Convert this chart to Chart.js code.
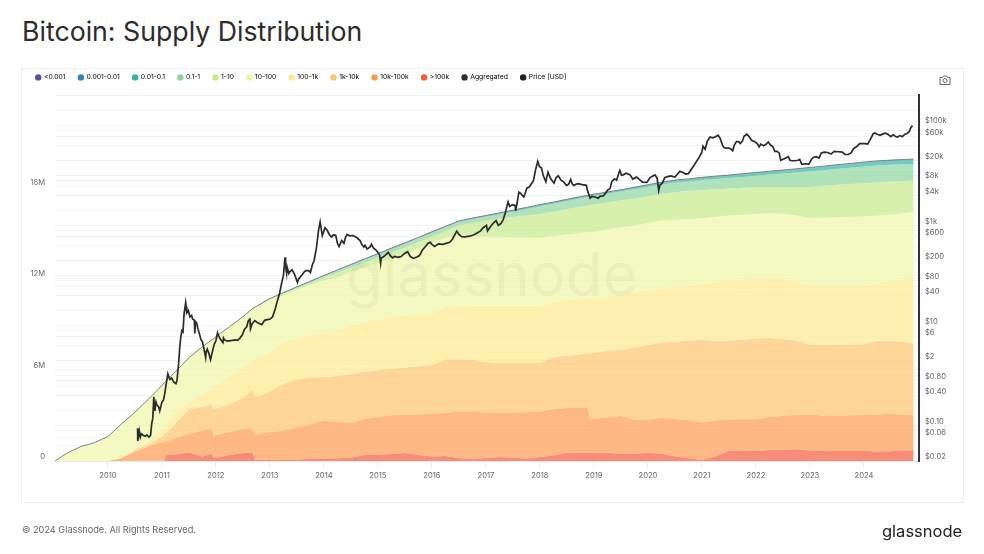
<!DOCTYPE html>
<html>
<head>
<meta charset="utf-8">
<title>Bitcoin: Supply Distribution</title>
<script src="https://cdn.jsdelivr.net/npm/chart.js@4"></script>
<style>
  html, body { margin: 0; padding: 0; background: #fff; font-family: Inter, sans-serif; }
  #page { position: relative; width: 984px; height: 554px; overflow: hidden; }
  #title { position: absolute; left: 22px; top: 14px; font-size: 26.7px; line-height: 34px; color: #2c2c2c; }
  #card { position: absolute; left: 21px; top: 68px; width: 941px; height: 433px; border: 1px solid #eeeeee; }
  #chart-wrap { position: absolute; left: 0; top: 0; width: 984px; height: 554px; }
  #mark { position: absolute; left: 346px; top: 238px; font-size: 60px; line-height: 72px; color: rgba(70, 70, 70, 0.05); }
  #camera { position: absolute; left: 939px; top: 75px; }
  #foot { position: absolute; left: 22px; top: 523px; font-size: 9.2px; line-height: 14px; color: #666; }
  #logo { position: absolute; left: 882px; top: 520px; font-size: 16.5px; line-height: 22px; font-weight: 400; color: #222; }
</style>
</head>
<body>
<div id="page">
  <div id="title">Bitcoin: Supply Distribution</div>
  <div id="card"></div>
  <div id="chart-wrap"><canvas id="chart" width="984" height="554"></canvas></div>
  <div id="mark">glassnode</div>
  <svg id="camera" width="12" height="10" viewBox="0 0 12 10" fill="none" stroke="#666" stroke-width="1">
    <path d="M1 2.5h2.5l1-1.5h3l1 1.5H11v7H1z"/><circle cx="6" cy="5.5" r="2"/>
  </svg>
  <div id="foot">© 2024 Glassnode. All Rights Reserved.</div>
  <div id="logo">glassnode</div>
</div>
<script>
// x ticks and y ticks
var yearTicks = [2010,2011,2012,2013,2014,2015,2016,2017,2018,2019,2020,2021,2022,2023,2024];
var supplyTicks = [0,6,12,18,24];
var priceTicks = [0.02,0.04,0.06,0.08,0.1,0.2,0.4,0.6,0.8,1,2,4,6,8,10,20,40,60,80,100,200,400,600,800,1000,2000,4000,6000,8000,10000,20000,40000,60000,80000,100000,200000,400000];
var priceTickLabels = {0.02:"$0.02",0.06:"$0.06",0.1:"$0.10",0.4:"$0.40",0.8:"$0.80",2:"$2",6:"$6",10:"$10",40:"$40",80:"$80",200:"$200",600:"$600",1000:"$1k",4000:"$4k",8000:"$8k",20000:"$20k",60000:"$60k",100000:"$100k"};

// dates shared by the supply bands
var bandYears = [
  2009.02,2009.25,2009.5,2009.75,2010,2010.25,2010.5,2010.75,2011,2011.05,
  2011.07,2011.25,2011.5,2011.75,2011.93,2011.95,2012,2012.25,2012.5,2012.68,
  2012.72,2012.75,2013,2013.25,2013.5,2013.75,2014,2014.25,2014.5,2014.75,
  2015,2015.25,2015.5,2015.75,2016,2016.25,2016.5,2016.75,2017,2017.25,
  2017.5,2017.75,2018,2018.25,2018.5,2018.75,2018.89,2018.93,2019,2019.25,
  2019.5,2019.75,2020,2020.25,2020.5,2020.75,2021,2021.25,2021.5,2021.75,
  2022,2022.25,2022.5,2022.75,2023,2023.25,2023.5,2023.75,2024,2024.25,
  2024.5,2024.75,2024.92
];

// supply in millions BTC, each one is the running total up to the top of that cohort
var upToOver100k = [
  0,0,0,0,0,0,.01,.01,.02,.02,
  .38,.42,.55,.3,.5,.22,.22,.39,.53,.58,
  .11,.08,.07,.1,.1,.13,.16,.18,.22,.39,
  .42,.46,.53,.39,.3,.33,.2,.11,.2,.26,
  .23,.16,.26,.36,.55,.52,.55,.55,.53,.55,
  .46,.5,.52,.5,.3,.2,.07,.3,.68,.66,
  .66,.72,.76,.77,.69,.66,.66,.66,.66,.62,
  .64,.7,.7
];
var upTo10k100k = [
  0,0,0,0,0,.2,.6,.95,1.25,1.28,
  1.3,1.5,1.78,2,2.1,1.6,1.7,1.9,2.1,2.1,
  1.75,1.75,1.9,2,2.2,2.4,2.65,2.55,2.5,2.75,
  2.9,3,3.05,3.05,3.1,3.15,3.24,3.22,3.2,3.18,
  3.18,3.2,3.24,3.4,3.48,3.5,3.5,2.74,2.78,2.85,
  2.95,2.7,2.72,2.84,2.76,2.68,2.52,2.66,2.74,2.74,
  2.74,2.88,2.96,3.05,3.05,2.98,2.98,3,3.02,3.05,
  3.1,3.03,3
];
var upTo1k10k = [
  0,0,0,0,0,.22,.72,1.05,1.6,1.75,
  1.8,2.45,3.4,3.55,3.74,3.42,3.45,3.7,4.15,4.65,
  4.25,4.2,4.55,5.05,5.35,5.5,5.5,5.58,5.7,5.85,
  5.95,6.05,6.13,6.22,6.3,6.65,6.68,6.62,6.5,6.42,
  6.42,6.42,6.42,6.8,6.9,7,7.05,7.05,7.1,7.22,
  7.3,7.45,7.6,7.77,7.82,7.88,7.95,7.85,7.9,7.95,
  8.03,8.06,8,7.88,7.6,7.6,7.6,7.6,7.65,7.88,
  7.88,7.8,7.71
];
var upTo100_1k = [
  0,0,0,0,0,.24,.8,1.3,2.05,2.2,
  2.3,3.2,3.9,4.3,4.75,4.8,4.95,5.5,6.1,6.6,
  6.75,6.75,7.1,7.75,8.05,8.25,8.4,8.55,8.85,9.1,
  9.3,9.45,9.53,9.6,9.64,10.12,10.15,10.18,10.18,10.18,
  10.18,10.18,10.18,10.4,10.55,10.6,10.65,10.65,10.68,10.75,
  10.9,11.06,11.2,11.32,11.4,11.5,11.6,11.8,11.85,11.9,
  11.95,11.98,11.92,11.8,11.5,11.5,11.5,11.5,11.5,11.65,
  11.83,11.9,11.98
];
var upTo10_100 = [
  0,.52,.94,1.19,1.59,2.42,3.19,4.04,4.94,5.14,
  5.21,5.84,6.77,7.48,7.96,7.99,8.14,8.78,9.43,9.95,
  10.04,10.08,10.55,10.85,11.22,11.55,11.85,12,12.4,12.7,
  13,13.3,13.55,13.95,14.3,14.62,14.78,14.75,14.72,14.7,
  14.68,14.65,14.63,14.75,14.85,14.95,15,15.02,15.05,15.18,
  15.32,15.45,15.6,15.77,15.82,15.85,15.92,16,16.1,16.15,
  16.2,16.25,16.22,16.1,15.94,15.95,15.98,16,16.03,16.08,
  16.16,16.25,16.31
];
var upTo1_10 = [
  0,.525,.945,1.195,1.595,2.425,3.195,4.045,4.945,5.145,
  5.215,5.845,6.775,7.485,7.965,7.995,8.145,8.79,9.45,9.98,
  10.07,10.11,10.61,10.97,11.33,11.68,12.03,12.35,12.68,13,
  13.35,13.68,14,14.35,14.72,15.08,15.44,15.6,15.75,15.88,
  16,16.1,16.2,16.35,16.52,16.68,16.75,16.78,16.83,16.95,
  17.1,17.2,17.38,17.52,17.62,17.72,17.76,17.82,17.87,17.92,
  17.96,17.96,17.96,17.96,17.96,18.05,18.12,18.17,18.22,18.26,
  18.32,18.36,18.4
];
var upTo01_1 = [
  0,.529,.949,1.199,1.599,2.429,3.199,4.049,4.949,5.149,
  5.219,5.849,6.779,7.489,7.969,7.999,8.149,8.799,9.459,9.995,
  10.095,10.135,10.65,11.02,11.39,11.76,12.13,12.49,12.84,13.2,
  13.54,13.9,14.25,14.6,14.97,15.33,15.68,15.86,16.02,16.18,
  16.35,16.53,16.7,16.87,17.05,17.23,17.31,17.34,17.39,17.53,
  17.67,17.82,17.98,18.13,18.26,18.33,18.42,18.49,18.55,18.63,
  18.71,18.78,18.85,18.92,19,19.07,19.16,19.23,19.31,19.38,
  19.42,19.46,19.48
];
var upTo001_01 = [
  0,.53,.95,1.2,1.6,2.43,3.2,4.05,4.95,5.15,
  5.22,5.85,6.78,7.49,7.97,8,8.15,8.8,9.46,10,
  10.1,10.14,10.66,11.03,11.41,11.78,12.15,12.51,12.87,13.22,
  13.57,13.93,14.28,14.63,15,15.36,15.71,15.9,16.07,16.24,
  16.42,16.6,16.78,16.95,17.13,17.31,17.39,17.42,17.47,17.61,
  17.76,17.92,18.09,18.25,18.39,18.47,18.57,18.65,18.72,18.81,
  18.89,18.97,19.05,19.13,19.22,19.3,19.4,19.48,19.57,19.65,
  19.7,19.74,19.77
];
var upTo0001_001 = [
  0,.53,.95,1.2,1.6,2.43,3.2,4.05,4.95,5.15,
  5.22,5.85,6.78,7.49,7.97,8,8.15,8.8,9.46,10,
  10.1,10.14,10.66,11.04,11.42,11.79,12.16,12.52,12.88,13.24,
  13.59,13.95,14.3,14.65,15.02,15.38,15.73,15.92,16.09,16.26,
  16.44,16.62,16.8,16.97,17.15,17.33,17.41,17.44,17.49,17.63,
  17.78,17.94,18.11,18.27,18.41,18.49,18.59,18.67,18.74,18.83,
  18.91,18.99,19.07,19.15,19.24,19.32,19.42,19.5,19.59,19.67,
  19.72,19.76,19.79
];
var aggregated = [
  0,.53,.95,1.2,1.6,2.43,3.2,4.05,4.95,5.15,
  5.22,5.85,6.78,7.49,7.97,8,8.15,8.8,9.46,10,
  10.1,10.14,10.66,11.04,11.42,11.79,12.17,12.53,12.89,13.25,
  13.6,13.96,14.31,14.66,15.03,15.39,15.74,15.93,16.1,16.27,
  16.45,16.63,16.81,16.98,17.16,17.34,17.42,17.45,17.5,17.64,
  17.79,17.95,18.12,18.28,18.42,18.5,18.6,18.68,18.75,18.84,
  18.92,19,19.08,19.16,19.25,19.33,19.43,19.51,19.6,19.68,
  19.73,19.77,19.8
];

// price in USD
var priceYears = [
  2010.55,2010.552,2010.58,2010.6,2010.62,2010.65,2010.69,2010.72,2010.76,2010.79,
  2010.81,2010.83,2010.85,2010.86,2010.87,2010.89,2010.91,2010.94,2010.96,2011,
  2011.03,2011.05,2011.08,2011.11,2011.13,2011.15,2011.18,2011.22,2011.26,2011.28,
  2011.31,2011.33,2011.35,2011.37,2011.39,2011.41,2011.44,2011.45,2011.46,2011.49,
  2011.52,2011.55,2011.57,2011.6,2011.61,2011.62,2011.64,2011.67,2011.7,2011.72,
  2011.75,2011.78,2011.81,2011.82,2011.84,2011.87,2011.9,2011.93,2011.97,2012,
  2012.03,2012.05,2012.08,2012.13,2012.14,2012.16,2012.2,2012.25,2012.3,2012.36,
  2012.4,2012.44,2012.49,2012.53,2012.57,2012.6,2012.63,2012.64,2012.67,2012.72,
  2012.77,2012.85,2012.9,2012.95,2013,2013.05,2013.1,2013.13,2013.18,2013.22,
  2013.25,2013.28,2013.29,2013.31,2013.32,2013.35,2013.37,2013.41,2013.45,2013.48,
  2013.51,2013.53,2013.56,2013.6,2013.64,2013.67,2013.72,2013.75,2013.79,2013.82,
  2013.84,2013.86,2013.9,2013.93,2013.95,2013.97,2014,2014.02,2014.06,2014.1,
  2014.14,2014.18,2014.22,2014.25,2014.28,2014.31,2014.33,2014.37,2014.4,2014.43,
  2014.48,2014.54,2014.6,2014.67,2014.7,2014.74,2014.76,2014.8,2014.85,2014.88,
  2014.92,2014.97,2015,2015.03,2015.05,2015.06,2015.08,2015.13,2015.19,2015.23,
  2015.27,2015.31,2015.37,2015.43,2015.5,2015.55,2015.6,2015.66,2015.72,2015.77,
  2015.82,2015.88,2015.93,2015.97,2016,2016.05,2016.12,2016.2,2016.26,2016.33,
  2016.38,2016.44,2016.46,2016.5,2016.55,2016.61,2016.7,2016.78,2016.83,2016.9,
  2016.95,2017.01,2017.03,2017.1,2017.15,2017.19,2017.23,2017.28,2017.32,2017.36,
  2017.41,2017.44,2017.49,2017.54,2017.55,2017.58,2017.61,2017.65,2017.7,2017.72,
  2017.76,2017.8,2017.83,2017.88,2017.92,2017.96,2017.99,2018.03,2018.06,2018.11,
  2018.13,2018.15,2018.19,2018.22,2018.26,2018.3,2018.34,2018.39,2018.44,2018.49,
  2018.53,2018.57,2018.6,2018.63,2018.68,2018.71,2018.78,2018.86,2018.88,2018.93,
  2018.96,2019.02,2019.08,2019.11,2019.18,2019.25,2019.3,2019.33,2019.38,2019.42,
  2019.46,2019.48,2019.51,2019.54,2019.6,2019.67,2019.72,2019.79,2019.83,2019.9,
  2019.98,2020.04,2020.1,2020.13,2020.17,2020.2,2020.22,2020.27,2020.31,2020.35,
  2020.42,2020.5,2020.56,2020.59,2020.65,2020.7,2020.75,2020.8,2020.85,2020.9,
  2020.95,2021,2021.02,2021.06,2021.1,2021.15,2021.2,2021.25,2021.3,2021.34,
  2021.38,2021.41,2021.44,2021.5,2021.54,2021.57,2021.6,2021.64,2021.68,2021.71,
  2021.75,2021.78,2021.83,2021.87,2021.92,2021.98,2022.03,2022.06,2022.09,2022.14,
  2022.18,2022.23,2022.27,2022.31,2022.35,2022.39,2022.43,2022.46,2022.5,2022.55,
  2022.6,2022.63,2022.67,2022.72,2022.78,2022.81,2022.85,2022.92,2022.98,2023.03,
  2023.07,2023.12,2023.17,2023.21,2023.27,2023.33,2023.39,2023.45,2023.53,2023.6,
  2023.65,2023.71,2023.76,2023.81,2023.86,2023.92,2023.98,2024.03,2024.07,2024.12,
  2024.17,2024.2,2024.25,2024.3,2024.35,2024.4,2024.45,2024.5,2024.54,2024.58,
  2024.62,2024.67,2024.71,2024.76,2024.8,2024.84,2024.87,2024.9
];
var priceUsd = [
  .09,.05,.08,.06,.07,.065,.062,.066,.06,.065,
  .11,.14,.38,.24,.2,.3,.26,.24,.2,.3,
  .33,.43,.7,1.1,.95,.85,.9,.75,.7,.82,
  1.8,3.7,6,8,7.5,17,29,24,18,20,
  15,16,13.5,13,7,12,11.6,8.5,6.5,5.4,
  4.8,3.4,2.3,3,3.4,2.8,2.1,2.9,4.3,5,
  7.2,6.3,5.4,4.6,5.7,5.2,5,5,5.1,5.2,
  5.1,5.6,6.6,8.5,9.5,12.6,13.5,8.7,11,12.6,
  11.5,10.5,12.8,13.2,13.5,15,22,29,45,73,
  100,232,150,110,146,110,120,130,110,90,
  73,85,93,105,120,125,125,115,170,200,
  270,345,800,1170,850,630,780,900,800,660,
  590,650,630,440,380,450,500,440,580,660,
  620,630,580,500,420,370,400,340,370,420,
  350,320,290,260,175,220,230,250,290,250,
  225,240,230,240,280,300,240,220,235,250,
  320,380,440,460,420,380,430,420,440,460,
  530,700,770,660,600,590,610,650,700,780,
  900,1000,780,1000,1150,1250,1000,1100,1300,1800,
  2950,2400,2600,2500,1950,2900,4600,4300,3700,4200,
  5600,5800,6500,7800,13000,19000,15000,14000,10000,7400,
  9500,11500,9000,8000,7000,9000,9800,8000,7400,6300,
  6600,8300,6700,6300,6700,6800,6500,6300,5000,3500,
  3800,3700,3500,3800,3900,5000,5500,7500,8500,8000,
  11000,12500,10000,10200,11000,10200,8400,9200,8500,7300,
  7200,9000,9800,10200,8800,5000,6300,7100,9000,9300,
  9700,9200,11000,12000,11400,10600,10800,13000,15500,19000,
  23000,29000,38000,33000,48000,58000,56000,59000,63000,54000,
  40000,36000,35000,35000,33000,31000,40000,47000,47000,43000,
  48000,60000,66000,60000,50000,47000,42000,37000,42000,39000,
  41000,46000,40000,38000,30000,30000,28000,20000,21000,22000,
  23500,20000,19500,19500,20000,20800,16500,17000,16600,21000,
  23000,23500,22000,28000,29000,28500,26500,30000,29500,29000,
  26000,26000,28000,34000,37000,43000,43000,43000,42000,52000,
  67000,70000,66000,63000,67000,69000,65000,59000,64000,60000,
  58000,62000,59000,66000,68000,75000,90000,98000
];

// legend order, lowest index is the top band
var bandLabels = ["<0.001","0.001-0.01","0.01-0.1","0.1-1","1-10","10-100","100-1k","1k-10k","10k-100k",">100k"];
var bandColors = ["#5e4fa2","#2b83ba","#36b3a7","#8ed59e","#c8ea8c","#eff7a6","#fee98d","#fec56e","#fd9a4f","#f45b3e"];
var bandTotals = [aggregated,upTo0001_001,upTo001_01,upTo01_1,upTo1_10,upTo10_100,upTo100_1k,upTo1k10k,upTo10k100k,upToOver100k];

function withAlpha(hex, a) {
  var n = parseInt(hex.slice(1), 16);
  return "rgba(" + (n >> 16) + "," + ((n >> 8) & 255) + "," + (n & 255) + "," + a + ")";
}

var datasets = bandLabels.map(function (label, i) {
  return {
    label: label,
    data: bandYears.map(function (y, j) { return { x: y, y: bandTotals[i][j] }; }),
    yAxisID: "supply",
    borderWidth: 0,
    pointRadius: 0,
    backgroundColor: withAlpha(bandColors[i], 0.7),
    legendColor: bandColors[i],
    fill: i === bandLabels.length - 1 ? "origin" : i + 1,
    order: 3
  };
});
datasets.push({
  label: "Aggregated",
  data: bandYears.map(function (y, j) { return { x: y, y: aggregated[j] }; }),
  yAxisID: "supply",
  borderColor: "#7d8088",
  borderWidth: 1,
  pointRadius: 0,
  fill: false,
  legendColor: "#2b2d35",
  order: 2
});
datasets.push({
  label: "Price [USD]",
  data: priceYears.map(function (y, j) { return { x: y, y: priceUsd[j] }; }),
  yAxisID: "price",
  borderColor: "#2b2b2b",
  borderWidth: 1.7,
  pointRadius: 0,
  fill: false,
  legendColor: "#222222",
  order: 1
});

var textColor = "#666";
var gridColor = "#f3f3f3";

// legend box keeps a fixed height so the plot starts where it should
var legendHeight = {
  id: "legendHeight",
  beforeLayout: function (chart) {
    var legend = chart.legend;
    if (legend && !legend.fitWrapped) {
      var fit = legend.fit;
      legend.fit = function () { fit.call(this); this.height = 34; };
      legend.fitWrapped = true;
    }
  }
};

var myChart = new Chart(document.getElementById("chart"), {
  type: "line",
  data: { datasets: datasets },
  plugins: [legendHeight],
  options: {
    responsive: false,
    animation: false,
    devicePixelRatio: 1,
    layout: { padding: { left: 23, right: 20, top: 61, bottom: 63 } },
    plugins: {
      tooltip: { enabled: false },
      legend: {
        position: "top",
        align: "start",
        labels: {
          usePointStyle: true,
          pointStyle: "circle",
          boxWidth: 4.5,
          boxHeight: 4.5,
          padding: 13,
          color: "#555",
          font: { family: "Inter", size: 6.8 },
          generateLabels: function (chart) {
            return chart.data.datasets.map(function (d, i) {
              return { text: d.label, fillStyle: d.legendColor, strokeStyle: d.legendColor, lineWidth: 0, pointStyle: "circle", datasetIndex: i };
            });
          }
        }
      }
    },
    scales: {
      x: {
        type: "linear",
        min: 2009.02,
        max: 2025.02,
        afterBuildTicks: function (s) { s.ticks = yearTicks.map(function (v) { return { value: v }; }); },
        afterFit: function (s) { s.height = 30; },
        grid: { drawOnChartArea: false, drawTicks: true, tickLength: 6, color: "#e8e8e8" },
        border: { color: "#e8e8e8" },
        ticks: {
          autoSkip: false, maxRotation: 0, padding: 4, color: textColor,
          font: { family: "Inter", size: 7.6 },
          callback: function (v) { return String(v); }
        }
      },
      supply: {
        type: "linear",
        position: "left",
        min: 0,
        max: 24,
        afterBuildTicks: function (s) { s.ticks = supplyTicks.map(function (v) { return { value: v }; }); },
        afterFit: function (s) { s.width = 32; },
        grid: { color: gridColor, drawTicks: false },
        border: { display: false },
        ticks: {
          padding: 10, labelOffset: -4, color: textColor,
          font: { family: "Inter", size: 7.6 },
          callback: function (v) { return v === 0 ? "0" : v === 24 ? "" : v + "M"; }
        }
      },
      price: {
        type: "logarithmic",
        position: "right",
        min: 0.02,
        max: 400000,
        afterBuildTicks: function (s) { s.ticks = priceTicks.map(function (v) { return { value: v }; }); },
        afterFit: function (s) { s.width = 45; },
        grid: { color: gridColor, drawTicks: false },
        border: { color: "#333", width: 2 },
        ticks: {
          autoSkip: false, padding: 6, labelOffset: -4, color: textColor,
          font: { family: "Inter", size: 7.6 },
          callback: function (v) { return priceTickLabels[v] || ""; }
        }
      }
    }
  }
});
</script>
</body>
</html>
